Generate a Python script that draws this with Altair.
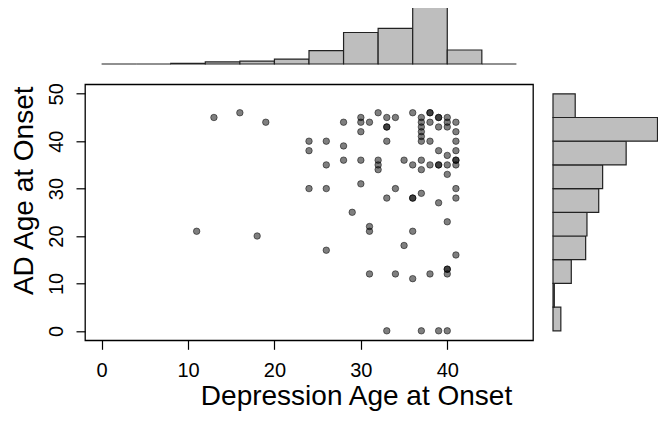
import altair as alt
import pandas as pd

# Scatter data: (Depression age at onset, AD age at onset)
dep_onset = [13, 16, 19, 28, 30, 30, 30, 31, 32, 33, 33, 33, 34, 33, 36, 38, 38,
             37, 37, 37, 37, 37, 38, 39, 39, 39, 40, 40, 40, 41, 41, 41, 41, 41,
             41, 41, 37, 38, 39, 40, 40, 24, 24, 26, 28, 26, 28, 30, 32, 32, 32,
             35, 36, 37, 37, 38, 39, 39, 40, 24, 26, 30, 34, 33, 36, 36, 37, 41,
             41, 39, 29, 40, 11, 18, 31, 31, 36, 35, 26, 41, 31, 34, 36, 38, 40,
             40, 40, 33, 37, 39, 40]
ad_onset = [45, 46, 44, 44, 45, 44, 42, 44, 46, 45, 43, 43, 45, 40, 46, 46, 46,
            45, 44, 43, 42, 41, 44, 45, 45, 43, 45, 44, 43, 44, 42, 40, 38, 36,
            36, 35, 40, 40, 38, 37, 33, 40, 38, 40, 39, 35, 36, 36, 36, 35, 34,
            36, 35, 36, 34, 35, 35, 35, 35, 30, 30, 31, 30, 28, 28, 28, 29, 30,
            28, 27, 25, 23, 21, 20, 22, 21, 21, 18, 17, 16, 12, 12, 11, 12, 13,
            13, 12, 0, 0, 0, 0]

# Top histogram (Depression age at onset), bins of width 4
top_bin_start = [0, 4, 8, 12, 16, 20, 24, 28, 32, 36, 40, 44]
top_counts = [0, 0, 1, 3, 4, 7, 19, 45, 51, 90, 20, 0]

# Right histogram (AD age at onset), bins of width 5
right_bin_start = [0, 5, 10, 15, 20, 25, 30, 35, 40, 45]
right_counts = [6, 1, 14, 25, 26, 35, 38, 56, 80, 17]

x_ticks = [0, 10, 20, 30, 40]
y_ticks = [0, 10, 20, 30, 40, 50]

X_DOMAIN = [-1.92, 49.92]
Y_DOMAIN = [-2, 52]
FONT = "Liberation Sans"

scatter_df = pd.DataFrame({"dep": dep_onset, "ad": ad_onset})
top_df = pd.DataFrame({"start": top_bin_start,
                       "end": [s + 4 for s in top_bin_start],
                       "count": top_counts})
right_df = pd.DataFrame({"start": right_bin_start,
                         "end": [s + 5 for s in right_bin_start],
                         "count": right_counts})

xscale = alt.Scale(domain=X_DOMAIN, nice=False, zero=False)
yscale = alt.Scale(domain=Y_DOMAIN, nice=False, zero=False)

scatter = alt.Chart(scatter_df).mark_circle(
    size=42, fill="black", fillOpacity=0.5, stroke="black",
    strokeOpacity=0.5, strokeWidth=1
).encode(
    x=alt.X("dep:Q", scale=xscale, axis=alt.Axis(
        values=x_ticks, domain=False, grid=False, tickColor="black",
        tickWidth=1.2, tickSize=9, labelFont=FONT, labelFontSize=20,
        labelColor="black", labelBaseline="alphabetic", labelPadding=27,
        title="Depression Age at Onset", titleFont=FONT, titleFontSize=28,
        titleFontWeight="normal", titleColor="black", titleX=271,
        titleY=64, titleAlign="center", titleBaseline="alphabetic")),
    y=alt.Y("ad:Q", scale=yscale, axis=alt.Axis(
        values=y_ticks, domain=False, grid=False, tickColor="black",
        tickWidth=1.2, tickSize=9, labelFont=FONT, labelFontSize=20,
        labelColor="black", labelAngle=270, labelAlign="center",
        labelBaseline="alphabetic", labelPadding=14,
        title="AD Age at Onset", titleFont=FONT, titleFontSize=28,
        titleFontWeight="normal", titleColor="black", titleAngle=270,
        titleX=-53, titleY=106, titleAlign="center",
        titleBaseline="alphabetic")),
)

top = alt.Chart(top_df).mark_rect(
    fill="#BEBEBE", stroke="#222222", strokeWidth=1.2
).encode(
    x=alt.X("start:Q", scale=xscale, axis=None),
    x2="end:Q",
    y=alt.Y("count:Q", scale=alt.Scale(domain=[0, 90], range=[-20.3, -83.3]),
            axis=None),
    y2=alt.datum(0),
)

right = alt.Chart(right_df).mark_rect(
    fill="#BEBEBE", stroke="#222222", strokeWidth=1.2
).encode(
    y=alt.Y("start:Q", scale=yscale, axis=None),
    y2="end:Q",
    x=alt.X("count:Q", scale=alt.Scale(domain=[0, 80], range=[468, 572.5]),
            axis=None),
    x2=alt.datum(0),
)

chart = alt.layer(scatter, top, right).resolve_scale(
    x="independent", y="independent"
).properties(
    width=448, height=256,
    autosize=alt.AutoSizeParams(type="none"),
    padding={"left": 77, "top": 76.3, "right": 125, "bottom": 70.7},
).configure_view(stroke="black", strokeWidth=1.3)

chart.save("out.html", embed_options={"renderer": "svg", "actions": False})
